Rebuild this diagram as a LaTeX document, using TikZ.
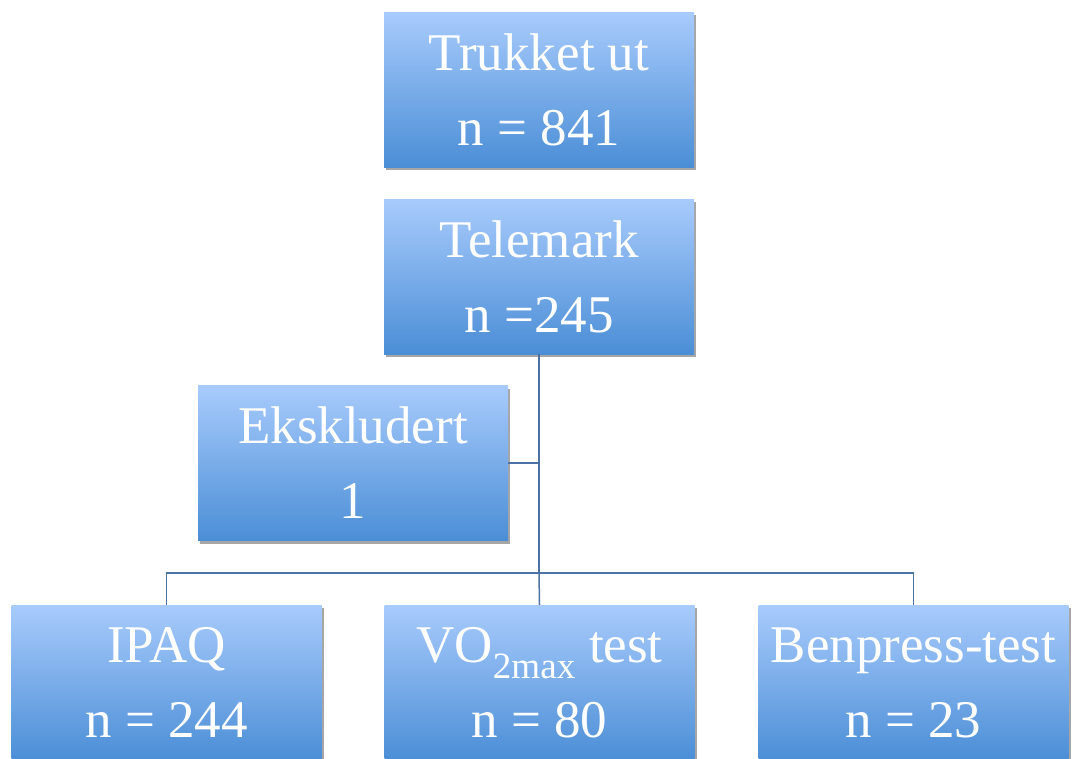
\documentclass[tikz,border=0pt]{standalone}
\usepackage{fontspec}
\setmainfont{Liberation Serif}
\usetikzlibrary{shadows}
\definecolor{boxtop}{HTML}{A8CBFC}
\definecolor{boxbot}{HTML}{4B8ED6}
\definecolor{linec}{HTML}{4A72A5}
\tikzset{
  box/.style={rectangle, minimum width=310pt, minimum height=155pt, inner sep=0pt,
    top color=boxtop, bottom color=boxbot, draw=none, text=white,
    align=center, font=\fontsize{53}{75}\selectfont,
    drop shadow={shadow xshift=2pt, shadow yshift=-3pt, fill=black, opacity=0.35}},
  conn/.style={draw=linec, line width=1.5pt}
}
\begin{document}
\begin{tikzpicture}[x=1pt,y=-1pt]
\useasboundingbox (0,0) rectangle (1073,758);
\node[box] (trukket) at (539,89.5) {Trukket ut\\n = 841};
\node[box] (telemark) at (539,276.5) {Telemark\\n =245};
\node[box] (eks) at (353,463) {Ekskludert\\1};
\node[box] (ipaq) at (166.5,682.5) {IPAQ\\n = 244};
\node[box] (vo2) at (539.5,682.5) {VO\textsubscript{2max} test\\n = 80};
\node[box] (ben) at (913.5,682.5) {Benpress-test\\n = 23};
\coordinate (bus) at (539,573);
\coordinate (eksj) at (539,463);
\draw[conn] (telemark.south) -- (bus);
\draw[conn] (eks.east) -- (eksj);
\draw[conn] (ipaq.north) |- (bus) -| (ben.north);
\draw[conn] (bus) -- (vo2.north);
\end{tikzpicture}
\end{document}
